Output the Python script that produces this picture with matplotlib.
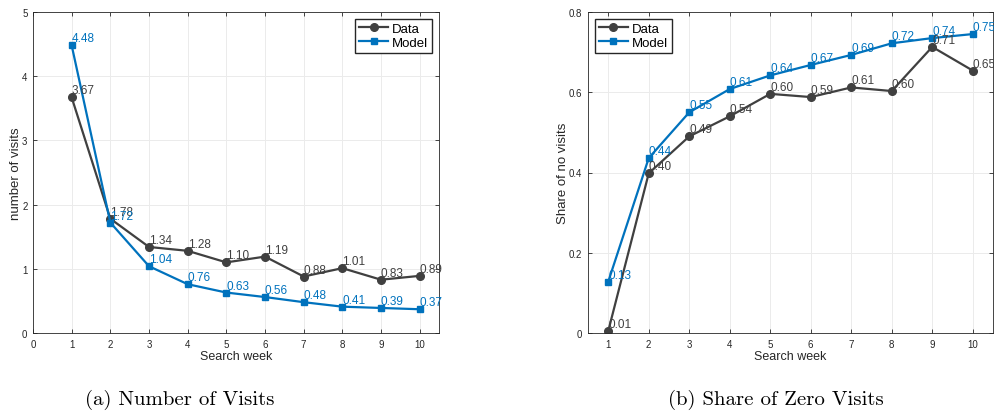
import numpy as np
import matplotlib
matplotlib.use("Agg")
import matplotlib.pyplot as plt

weeks = [1, 2, 3, 4, 5, 6, 7, 8, 9, 10]

visits_data = [3.67, 1.78, 1.34, 1.28, 1.10, 1.19, 0.88, 1.01, 0.83, 0.89]
visits_model = [4.48, 1.72, 1.04, 0.76, 0.63, 0.56, 0.48, 0.41, 0.39, 0.37]

zero_data = [0.005, 0.398, 0.49, 0.54, 0.596, 0.588, 0.612, 0.603, 0.713, 0.654]
zero_model = [0.128, 0.436, 0.55, 0.608, 0.642, 0.668, 0.693, 0.722, 0.735, 0.745]
zero_data_lbl = ["0.01", "0.40", "0.49", "0.54", "0.60", "0.59", "0.61", "0.60", "0.71", "0.65"]
zero_model_lbl = ["0.13", "0.44", "0.55", "0.61", "0.64", "0.67", "0.69", "0.72", "0.74", "0.75"]

gray = "#404040"
blue = "#0072BD"

plt.rcParams["font.family"] = ["Liberation Sans", "DejaVu Sans"]

fig = plt.figure(figsize=(9.95, 4.14), dpi=100)
W, H = 995.0, 414.0


def make_axes(left, right, top, bottom):
    return fig.add_axes([left / W, 1 - bottom / H, (right - left) / W, (bottom - top) / H])


def style(ax):
    ax.grid(True, color="#ebebeb", linewidth=0.7)
    ax.set_axisbelow(True)
    ax.tick_params(direction="in", length=3, labelsize=7, colors="#262626",
                   top=True, right=True, width=0.6, pad=4)
    for s in ax.spines.values():
        s.set_color("#262626")
        s.set_linewidth(0.6)
    ax.set_xlabel("Search week", fontsize=9, color="#262626", labelpad=1)


def draw(ax, data, model, dlbl, mlbl):
    ax.plot(weeks, data, "-o", color=gray, markersize=5.5, linewidth=1.6, label="Data")
    ax.plot(weeks, model, "-s", color=blue, markersize=5, linewidth=1.6, label="Model")
    for x, y, t in zip(weeks, data, dlbl):
        ax.annotate(t, (x, y), xytext=(0, 5), textcoords="offset points",
                    ha="left", va="center", fontsize=8.5, color=gray)
    for x, y, t in zip(weeks, model, mlbl):
        ax.annotate(t, (x, y), xytext=(0, 5), textcoords="offset points",
                    ha="left", va="center", fontsize=8.5, color=blue)


# (a) number of visits
ax1 = make_axes(33, 439, 13, 334)
draw(ax1, visits_data, visits_model,
     ["%.2f" % v for v in visits_data], ["%.2f" % v for v in visits_model])
ax1.set_xlim(0, 10.5)
ax1.set_ylim(0, 5)
ax1.set_xticks(range(0, 11))
ax1.set_yticks(range(0, 6))
style(ax1)
ax1.set_ylabel("number of visits", fontsize=9.5, color="#262626", labelpad=0)
ax1.legend(loc="upper right", fontsize=9.5, fancybox=False, edgecolor="#262626",
           handlelength=2.2, borderpad=0.3, labelspacing=0.15, handletextpad=0.3,
           borderaxespad=0.5, framealpha=1)

# (b) share of zero visits
ax2 = make_axes(588, 993, 13, 334)
draw(ax2, zero_data, zero_model, zero_data_lbl, zero_model_lbl)
ax2.set_xlim(0.5, 10.5)
ax2.set_ylim(0, 0.8)
ax2.set_xticks(range(1, 11))
ax2.set_yticks([0, 0.2, 0.4, 0.6, 0.8])
ax2.set_yticklabels(["0", "0.2", "0.4", "0.6", "0.8"])
style(ax2)
ax2.set_ylabel("Share of no visits", fontsize=9.5, color="#262626", labelpad=0)
ax2.legend(loc="upper left", fontsize=9.5, fancybox=False, edgecolor="#262626",
           handlelength=2.2, borderpad=0.3, labelspacing=0.15, handletextpad=0.3,
           borderaxespad=0.5, framealpha=1)

fig.text(180 / W, 1 - 400 / H, "(a) Number of Visits", family="cmr10",
         fontsize=15, ha="center", va="center")
fig.text(776 / W, 1 - 400 / H, "(b) Share of Zero Visits", family="cmr10",
         fontsize=15, ha="center", va="center")

fig.savefig("out.png", dpi=100)
